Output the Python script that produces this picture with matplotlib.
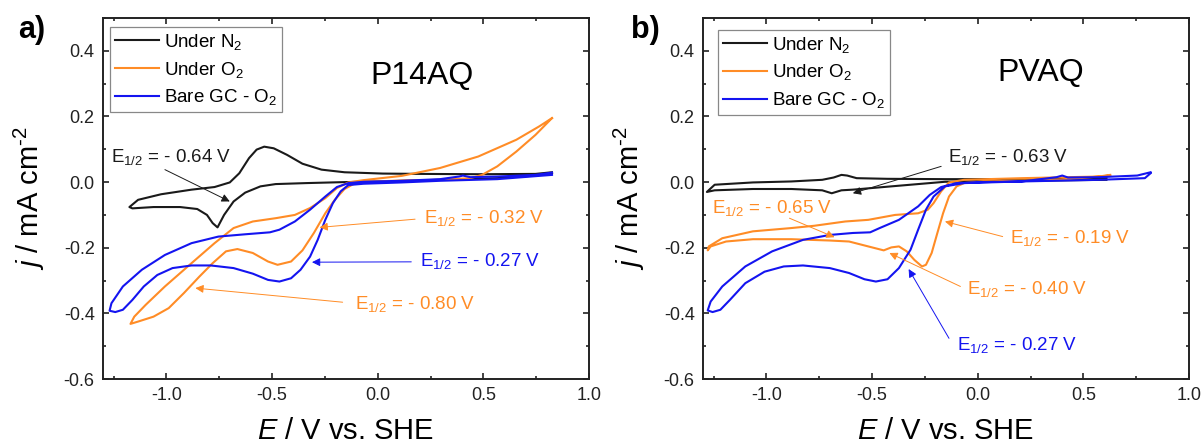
import matplotlib
matplotlib.use("Agg")
import matplotlib.pyplot as plt
from matplotlib.ticker import MultipleLocator, FormatStrFormatter

plt.rcParams['font.family'] = ['Liberation Sans', 'DejaVu Sans']
plt.rcParams['mathtext.fontset'] = 'custom'
plt.rcParams['mathtext.rm'] = 'Liberation Sans'
plt.rcParams['mathtext.it'] = 'Liberation Sans:italic'
plt.rcParams['mathtext.bf'] = 'Liberation Sans:bold'
plt.rcParams['axes.unicode_minus'] = False

# ---------------- data: cyclic voltammograms (E in V vs. SHE, j in mA cm^-2) ----------------
# Panel a) P14AQ
a_n2_E = [0.825, 0.747, 0.566, 0.024, -0.157, -0.338, -0.483, -0.555, -0.627, -0.682, -0.727,
          -0.758, -0.781, -0.808, -0.854, -0.935, -1.061, -1.161, -1.175,
          -1.134, -1.025, -0.881, -0.772, -0.700, -0.655, -0.609, -0.573, -0.537, -0.492,
          -0.429, -0.356, -0.266, -0.157, 0.024, 0.204, 0.476, 0.747, 0.825]
a_n2_j = [0.027, 0.020, 0.012, 0.002, 0.000, -0.003, -0.006, -0.013, -0.032, -0.059, -0.100,
          -0.138, -0.125, -0.100, -0.082, -0.076, -0.076, -0.080, -0.076,
          -0.054, -0.037, -0.023, -0.015, -0.001, 0.027, 0.073, 0.099, 0.108, 0.103,
          0.083, 0.056, 0.038, 0.030, 0.026, 0.025, 0.024, 0.025, 0.030]

a_o2_E = [0.825, 0.747, 0.656, 0.566, 0.494, 0.439, 0.295, 0.114, -0.049, -0.112, -0.157, -0.203,
          -0.248, -0.302, -0.356, -0.410, -0.474, -0.519, -0.591, -0.664, -0.718, -0.781, -0.844,
          -0.917, -0.989, -1.061, -1.134, -1.170,
          -1.152, -1.098, -1.007, -0.881, -0.772, -0.682, -0.591, -0.483, -0.392, -0.320, -0.248,
          -0.193, -0.139, -0.067, 0.114, 0.295, 0.476, 0.656, 0.765, 0.825]
a_o2_j = [0.195, 0.144, 0.093, 0.048, 0.022, 0.012, 0.007, 0.005, 0.001, -0.005, -0.021, -0.054,
          -0.095, -0.155, -0.208, -0.242, -0.252, -0.242, -0.216, -0.204, -0.211, -0.247, -0.288,
          -0.338, -0.384, -0.410, -0.425, -0.432,
          -0.410, -0.374, -0.318, -0.247, -0.186, -0.140, -0.120, -0.110, -0.100, -0.079, -0.049,
          -0.018, -0.001, 0.006, 0.019, 0.043, 0.078, 0.129, 0.170, 0.195]

a_gc_E = [0.825, 0.566, 0.295, 0.114, -0.067, -0.139, -0.175, -0.212, -0.248, -0.284, -0.320,
          -0.365, -0.410, -0.465, -0.519, -0.591, -0.682, -0.790, -0.881, -0.971, -1.043, -1.107,
          -1.161, -1.206, -1.242, -1.269,
          -1.260, -1.206, -1.116, -1.007, -0.881, -0.754, -0.627, -0.510, -0.465, -0.392, -0.320,
          -0.248, -0.193, -0.139, -0.067, 0.114, 0.295, 0.385, 0.403, 0.439, 0.566, 0.747, 0.825]
a_gc_j = [0.022, 0.009, 0.004, -0.001, -0.005, -0.009, -0.028, -0.064, -0.115, -0.176, -0.227,
          -0.267, -0.293, -0.303, -0.298, -0.279, -0.262, -0.254, -0.254, -0.262, -0.283, -0.318,
          -0.359, -0.389, -0.396, -0.392,
          -0.369, -0.318, -0.267, -0.222, -0.186, -0.166, -0.159, -0.153, -0.145, -0.120, -0.084,
          -0.044, -0.015, -0.003, 0.001, 0.004, 0.009, 0.017, 0.020, 0.015, 0.017, 0.022, 0.029]

# Panel b) PVAQ
b_n2_E = [0.609, 0.209, -0.155, -0.591, -0.645, -0.691, -0.736, -0.882, -1.064, -1.245, -1.282,
          -1.245, -1.064, -0.882, -0.736, -0.682, -0.645, -0.618, -0.573, -0.427, -0.155, 0.209, 0.609]
b_n2_j = [0.007, 0.004, 0.001, -0.023, -0.025, -0.034, -0.025, -0.021, -0.021, -0.025, -0.030,
          -0.008, -0.001, 0.002, 0.007, 0.014, 0.022, 0.020, 0.012, 0.010, 0.009, 0.009, 0.012]

b_o2_E = [0.627, 0.391, 0.027, -0.064, -0.100, -0.136, -0.164, -0.191, -0.218, -0.245, -0.264,
          -0.300, -0.336, -0.373, -0.409, -0.445, -0.518, -0.609, -0.700, -0.882, -1.064, -1.191,
          -1.264, -1.278,
          -1.273, -1.209, -1.064, -0.882, -0.773, -0.627, -0.518, -0.391, -0.282, -0.236, -0.209,
          -0.173, -0.136, -0.064, 0.209, 0.573, 0.627]
b_o2_j = [0.020, 0.007, 0.002, -0.003, -0.013, -0.044, -0.095, -0.155, -0.216, -0.252, -0.257,
          -0.237, -0.211, -0.196, -0.199, -0.208, -0.196, -0.181, -0.178, -0.174, -0.174, -0.181,
          -0.196, -0.208,
          -0.196, -0.171, -0.150, -0.140, -0.133, -0.120, -0.115, -0.100, -0.095, -0.084, -0.064,
          -0.028, -0.001, 0.007, 0.012, 0.017, 0.022]

b_gc_E = [0.818, 0.791, 0.573, 0.209, -0.064, -0.155, -0.209, -0.245, -0.282, -0.318, -0.373,
          -0.427, -0.482, -0.536, -0.609, -0.700, -0.827, -0.918, -1.009, -1.100, -1.173, -1.218,
          -1.255, -1.278,
          -1.264, -1.209, -1.100, -0.973, -0.827, -0.700, -0.591, -0.509, -0.464, -0.373, -0.282,
          -0.227, -0.173, -0.100, 0.027, 0.209, 0.373, 0.400, 0.427, 0.573, 0.755, 0.818]
b_gc_j = [0.027, 0.012, 0.007, 0.002, -0.003, -0.013, -0.044, -0.084, -0.145, -0.206, -0.262,
          -0.296, -0.303, -0.296, -0.277, -0.262, -0.254, -0.257, -0.273, -0.308, -0.359, -0.389,
          -0.396, -0.391,
          -0.364, -0.318, -0.257, -0.211, -0.176, -0.161, -0.155, -0.153, -0.140, -0.115, -0.074,
          -0.039, -0.015, -0.003, 0.000, 0.002, 0.015, 0.020, 0.014, 0.015, 0.020, 0.030]

series_labels = ['Under N$_2$', 'Under O$_2$', 'Bare GC - O$_2$']
panel_names = ['P14AQ', 'PVAQ']
panel_tags = ['a)', 'b)']

C_K = '#1a1a1a'
C_O = '#ff8c26'
C_B = '#1414f0'

# half-wave potential callouts: (text, colour, text x, text y, arrow tail, arrow head)
a_notes = [
    ('- 0.64 V', C_K, -1.260, 0.078, (-1.007, 0.038), (-0.700, -0.059)),
    ('- 0.32 V', C_O, 0.219, -0.110, (0.177, -0.113), (-0.275, -0.138)),
    ('- 0.27 V', C_B, 0.201, -0.239, (0.159, -0.243), (-0.311, -0.244)),
    ('- 0.80 V', C_O, -0.107, -0.372, (-0.166, -0.366), (-0.863, -0.323)),
]
b_notes = [
    ('- 0.63 V', C_K, -0.140, 0.076, (-0.173, 0.048), (-0.591, -0.034)),
    ('- 0.65 V', C_O, -1.258, -0.079, (-0.891, -0.110), (-0.678, -0.168)),
    ('- 0.19 V', C_O, 0.151, -0.171, (0.118, -0.166), (-0.155, -0.120)),
    ('- 0.40 V', C_O, -0.049, -0.326, (-0.082, -0.318), (-0.418, -0.216)),
    ('- 0.27 V', C_B, -0.096, -0.496, (-0.136, -0.476), (-0.327, -0.265)),
]

fig = plt.figure(figsize=(12.02, 4.45), dpi=100)
ax_a = fig.add_axes([0.0857, 0.1483, 0.4043, 0.8112])
ax_b = fig.add_axes([0.5849, 0.1483, 0.4043, 0.8112])

panels = [
    (ax_a, (a_n2_E, a_n2_j), (a_o2_E, a_o2_j), (a_gc_E, a_gc_j), a_notes, (0.210, 0.324), (0.0144, 0.975)),
    (ax_b, (b_n2_E, b_n2_j), (b_o2_E, b_o2_j), (b_gc_E, b_gc_j), b_notes, (0.300, 0.332), (0.031, 0.967)),
]

for i, (ax, n2, o2, gc, notes, name_xy, leg_xy) in enumerate(panels):
    ax.plot(n2[0], n2[1], color=C_K, lw=1.5, label=series_labels[0], solid_joinstyle='round')
    ax.plot(o2[0], o2[1], color=C_O, lw=1.5, label=series_labels[1], solid_joinstyle='round')
    ax.plot(gc[0], gc[1], color=C_B, lw=1.5, label=series_labels[2], solid_joinstyle='round')

    ax.set_xlim(-1.3, 1.0)
    ax.set_ylim(-0.6, 0.5)
    ax.xaxis.set_major_locator(MultipleLocator(0.5))
    ax.xaxis.set_minor_locator(MultipleLocator(0.25))
    ax.yaxis.set_major_locator(MultipleLocator(0.2))
    ax.yaxis.set_minor_locator(MultipleLocator(0.1))
    ax.xaxis.set_major_formatter(FormatStrFormatter('%.1f'))
    ax.yaxis.set_major_formatter(FormatStrFormatter('%.1f'))
    ax.tick_params(which='both', direction='in', top=True, right=True,
                   labelsize=13, colors='#222222', width=1.2)
    ax.tick_params(which='major', length=4.5, pad=6)
    ax.tick_params(which='minor', length=2.5)
    for sp in ax.spines.values():
        sp.set_linewidth(1.4)
        sp.set_color('#222222')

    ax.set_xlabel('$E$ / V vs. SHE', fontsize=21, labelpad=9)
    ax.set_ylabel('$j$ / mA cm$^{\u20102}$', fontsize=21, labelpad=12)

    ax.text(name_xy[0], name_xy[1], panel_names[i], fontsize=23, ha='center', va='center')

    for txt, col, tx, ty, tail, head in notes:
        ax.text(tx, ty, 'E$_{1/2}$ = ' + txt, color=col, fontsize=13.5, ha='left', va='center')
        ax.annotate('', xy=head, xytext=tail,
                    arrowprops=dict(arrowstyle='-|>', color=col, lw=0.7,
                                    mutation_scale=12, shrinkA=0, shrinkB=0))

    leg = ax.legend(loc='upper left', bbox_to_anchor=leg_xy, borderaxespad=0,
                    fontsize=13.5, frameon=True, fancybox=False, framealpha=1,
                    handlelength=2.35, handletextpad=0.3, labelspacing=0.42,
                    borderpad=0.25)
    leg.get_frame().set_edgecolor('#888888')
    leg.get_frame().set_linewidth(0.9)

fig.text(32 / 1202, 1 - 30 / 445, panel_tags[0], fontsize=22, fontweight='bold', ha='center', va='center')
fig.text(645 / 1202, 1 - 30 / 445, panel_tags[1], fontsize=22, fontweight='bold', ha='center', va='center')

fig.savefig('out.png', dpi=100)
